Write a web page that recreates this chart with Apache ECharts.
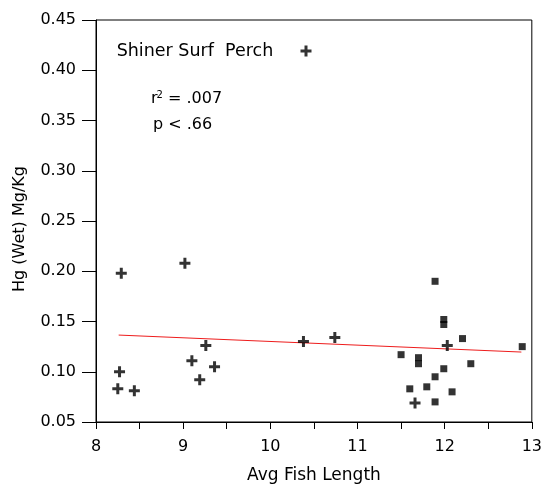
<!DOCTYPE html>
<html>
<head>
<meta charset="utf-8">
<script src="https://cdn.jsdelivr.net/npm/echarts@6/dist/echarts.min.js"></script>
<style>
html,body{margin:0;padding:0;background:#fff;}
#chart{width:545px;height:489px;}
</style>
</head>
<body>
<div id="chart"></div>
<script>
// Shiner Surf Perch (crosses)
var perchX = [8.29, 9.02, 8.27, 8.25, 8.44, 9.10, 9.26, 9.36, 9.19, 10.38, 10.74, 12.03, 11.66];
var perchY = [0.198, 0.208, 0.100, 0.083, 0.081, 0.111, 0.126, 0.105, 0.092, 0.130, 0.134, 0.126, 0.069];
// Other samples (squares)
var otherX = [11.89, 11.99, 11.99, 12.205, 12.89, 11.50, 11.70, 11.70, 12.30, 11.99, 11.89, 11.60, 11.795, 12.085, 11.89];
var otherY = [0.190, 0.152, 0.147, 0.133, 0.125, 0.117, 0.114, 0.108, 0.108, 0.103, 0.095, 0.083, 0.085, 0.080, 0.070];
// Regression line endpoints
var fitX = [8.26, 12.88];
var fitY = [0.1365, 0.1196];
// Axis tick labels
var xTicks = [8, 9, 10, 11, 12, 13];
var yTicks = ['0.05','0.10','0.15','0.20','0.25','0.30','0.35','0.40','0.45'];

var plusPath = 'path://M4,0h3v4h4v3h-4v4h-3v-4h-4v-3h4z';
var FONT = 'DejaVu Sans';

function zip(a, b) { return a.map(function (v, i) { return [v, b[i]]; }); }

var chart = echarts.init(document.getElementById('chart'), null, {renderer: 'canvas'});
chart.setOption({
  animation: false,
  backgroundColor: '#fff',
  textStyle: {fontFamily: FONT},
  grid: {left: 96, right: 9, top: 20, bottom: 65, show: true, borderColor: '#000', borderWidth: 1},
  legend: {
    data: ['Shiner Surf  Perch'],
    right: 233.5, top: 42, padding: 0,
    align: 'right',
    itemWidth: 11, itemHeight: 11,
    icon: plusPath,
    formatter: function (n) { return n + '    '; },
    textStyle: {fontFamily: FONT, fontSize: 17.5, color: '#000'}
  },
  xAxis: {
    type: 'value', min: xTicks[0], max: xTicks[xTicks.length - 1], interval: 1,
    name: 'Avg Fish Length', nameLocation: 'middle', nameGap: 45,
    nameTextStyle: {fontFamily: FONT, fontSize: 17, color: '#000'},
    axisLine: {lineStyle: {color: '#000', width: 1}},
    axisTick: {length: 7, lineStyle: {color: '#000', width: 1}},
    minorTick: {show: true, splitNumber: 2, length: 7, lineStyle: {color: '#000', width: 1}},
    splitLine: {show: false},
    axisLabel: {margin: 17, fontFamily: FONT, fontSize: 16, color: '#000'}
  },
  yAxis: {
    type: 'value', min: 0.05, max: 0.45, interval: 0.05,
    name: 'Hg (Wet) Mg/Kg', nameLocation: 'middle', nameGap: 68,
    nameTextStyle: {fontFamily: FONT, fontSize: 16, color: '#000', padding: [0, 16, 0, 0]},
    axisLine: {lineStyle: {color: '#000', width: 1}},
    axisTick: {length: 14, lineStyle: {color: '#000', width: 1}},
    splitLine: {show: false},
    axisLabel: {
      margin: 20, fontFamily: FONT, fontSize: 16, color: '#000',
      formatter: function (v) { var s = v.toFixed(2); return yTicks.indexOf(s) >= 0 ? s : ''; }
    }
  },
  graphic: [
    {type: 'text', left: 151, top: 90, style: {
      text: '{a|r}{s|2}{a| = .007}', fill: '#000',
      rich: {a: {fontFamily: FONT, fontSize: 16, fill: '#000'},
             s: {fontFamily: FONT, fontSize: 10, fill: '#000', verticalAlign: 'top', padding: [0, 0, 8, -1]}}
    }},
    {type: 'text', left: 153, top: 117, style: {
      text: 'p < .66', fill: '#000', font: '16px "DejaVu Sans"'
    }}
  ],
  series: [
    {
      name: 'Shiner Surf  Perch', type: 'scatter', data: zip(perchX, perchY),
      symbol: plusPath, symbolSize: 11, itemStyle: {color: '#000'}, z: 3
    },
    {
      name: 'Other', type: 'scatter', data: zip(otherX, otherY),
      symbol: 'rect', symbolSize: 7, itemStyle: {color: '#000'}, z: 3
    },
    {
      name: 'Fit', type: 'line', data: zip(fitX, fitY), symbol: 'none',
      lineStyle: {color: '#ee1c1c', width: 1}, z: 2
    }
  ]
});
</script>
</body>
</html>
